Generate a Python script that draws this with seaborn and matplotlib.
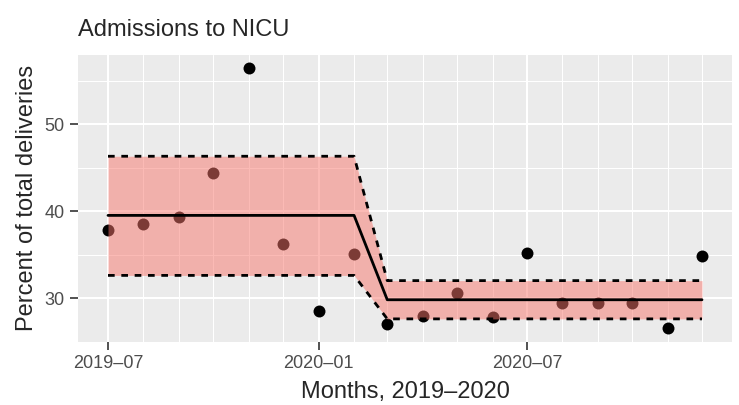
import pandas as pd
import numpy as np
import matplotlib
matplotlib.use("Agg")
import matplotlib.pyplot as plt
import matplotlib.dates as mdates
import seaborn as sns

# data (monthly NICU admissions, % of deliveries)
months = ["2019-07", "2019-08", "2019-09", "2019-10", "2019-11", "2019-12",
          "2020-01", "2020-02", "2020-03", "2020-04", "2020-05", "2020-06",
          "2020-07", "2020-08", "2020-09", "2020-10", "2020-11", "2020-12"]
pct = [37.8, 38.5, 39.3, 44.4, 56.5, 36.2, 28.5, 35.1, 27.0,
       27.9, 30.6, 27.8, 35.2, 29.4, 29.4, 29.4, 26.5, 34.8]
center = [39.5, 39.5, 39.5, 39.5, 39.5, 39.5, 39.5, 39.5, 29.8,
          29.8, 29.8, 29.8, 29.8, 29.8, 29.8, 29.8, 29.8, 29.8]
upper = [46.3, 46.3, 46.3, 46.3, 46.3, 46.3, 46.3, 46.3, 32.0,
         32.0, 32.0, 32.0, 32.0, 32.0, 32.0, 32.0, 32.0, 32.0]
lower = [32.6, 32.6, 32.6, 32.6, 32.6, 32.6, 32.6, 32.6, 27.6,
         27.6, 27.6, 27.6, 27.6, 27.6, 27.6, 27.6, 27.6, 27.6]
major_ticks = ["2019-07", "2020-01", "2020-07"]
tick_labels = ["2019–07", "2020–01", "2020–07"]

df = pd.DataFrame({"month": pd.to_datetime(months), "pct": pct,
                   "center": center, "upper": upper, "lower": lower})

sns.set_theme(style="darkgrid", rc={
    "axes.facecolor": "#EBEBEB",
    "grid.color": "white",
    "axes.edgecolor": "#EBEBEB",
    "xtick.bottom": True, "ytick.left": True,
    "xtick.color": "#333333", "ytick.color": "#333333",
    "xtick.labelcolor": "#4D4D4D", "ytick.labelcolor": "#4D4D4D",
    "xtick.major.size": 5.5, "ytick.major.size": 5.5,
    "xtick.major.width": 1.2, "ytick.major.width": 1.2,
    "xtick.major.pad": 4.3, "ytick.major.pad": 4.5,
})
plt.rcParams["font.family"] = ["Liberation Sans", "DejaVu Sans"]

fig = plt.figure(figsize=(7.39, 4.05), dpi=100)
ax = fig.add_axes([78.3 / 739, 63.5 / 405, 653.4 / 739, 287 / 405])

# points first, ribbon on top (as in the original)
sns.scatterplot(data=df, x="month", y="pct", color="black", s=74,
                linewidth=0, ax=ax, zorder=3)
ax.fill_between(df["month"], df["lower"], df["upper"], color="#F8766D",
                alpha=0.5, linewidth=0, zorder=4)
sns.lineplot(data=df, x="month", y="center", color="black", linewidth=2,
             ax=ax, zorder=5)
for col in ["upper", "lower"]:
    sns.lineplot(data=df, x="month", y=col, color="black", linewidth=2,
                 ax=ax, zorder=5, linestyle=(0, (2.4, 2.4)))

# limits with ggplot-like 5% expansion
xmin, xmax = mdates.date2num(df["month"].min()), mdates.date2num(df["month"].max())
dx = (xmax - xmin) * 0.05
ax.set_xlim(xmin - dx, xmax + dx)
ymin, ymax = min(pct), max(pct)
dy = (ymax - ymin) * 0.05
ax.set_ylim(ymin - dy, ymax + dy)

ax.set_xticks(pd.to_datetime(major_ticks))
ax.set_xticklabels(tick_labels, fontsize=13)
minor_months = [m for m in months if m not in major_ticks]
ax.set_xticks(pd.to_datetime(minor_months), minor=True)
ax.set_yticks([30, 40, 50])
ax.set_yticks([35, 45, 55], minor=True)
ax.tick_params(axis="y", labelsize=13)
ax.tick_params(which="minor", length=0)
ax.grid(which="major", color="white", linewidth=1.5)
ax.grid(which="minor", color="white", linewidth=0.75)
for s in ax.spines.values():
    s.set_visible(False)

ax.set_xlabel("Months, 2019–2020", fontsize=17, labelpad=6.5)
ax.set_ylabel("Percent of total deliveries", fontsize=17, labelpad=4.3)
ax.set_title("Admissions to NICU", loc="left", fontsize=17, pad=13.5)

fig.savefig("out.png", dpi=100)
plt.close(fig)
